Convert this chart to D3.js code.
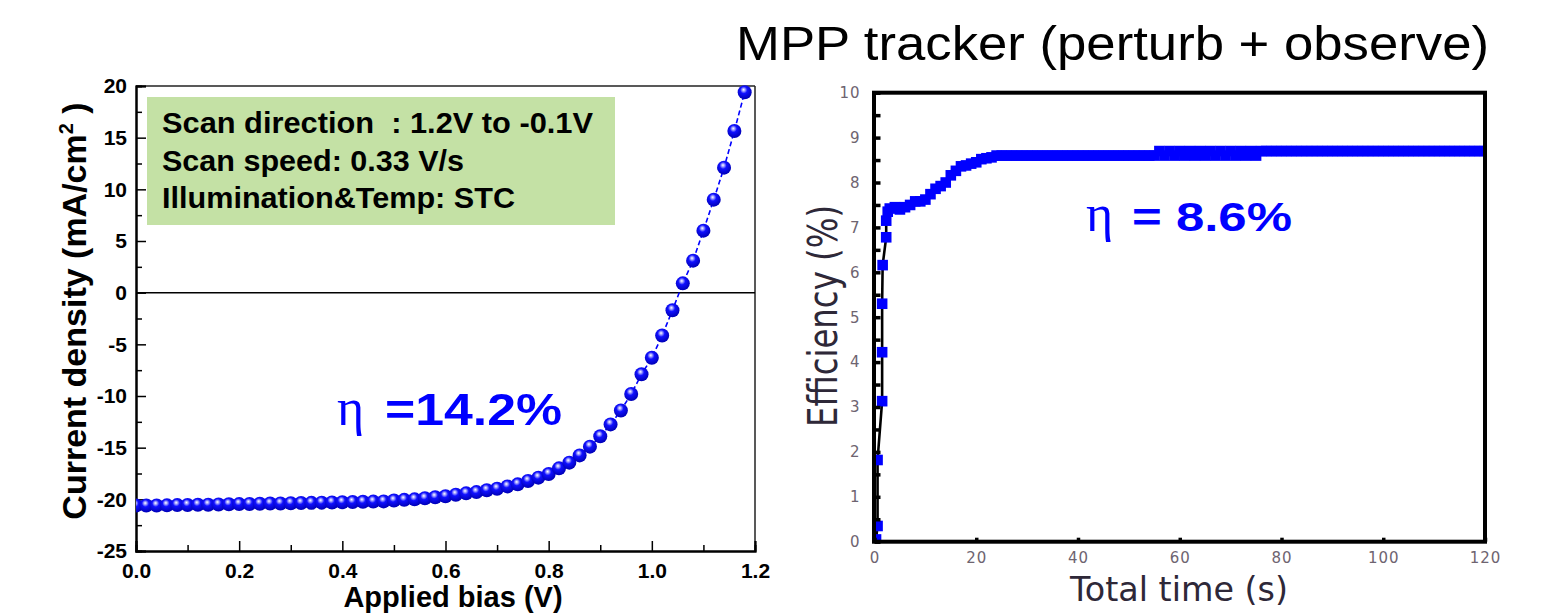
<!DOCTYPE html>
<html>
<head>
<meta charset="utf-8">
<script src="https://cdn.jsdelivr.net/npm/d3@7"></script>
<style>
  body { margin: 0; background: #fff; }
  svg { display: block; }
</style>
</head>
<body>
<svg id="chart" width="1545" height="613"></svg>
<script>
// J-V curve (left panel)
const biasV = [0.00, 0.02, 0.04, 0.06, 0.08, 0.10, 0.12, 0.14, 0.16, 0.18,
               0.20, 0.22, 0.24, 0.26, 0.28, 0.30, 0.32, 0.34, 0.36, 0.38,
               0.40, 0.42, 0.44, 0.46, 0.48, 0.50, 0.52, 0.54, 0.56, 0.58,
               0.60, 0.62, 0.64, 0.66, 0.68, 0.70, 0.72, 0.74, 0.76, 0.78,
               0.80, 0.82, 0.84, 0.86, 0.88, 0.90, 0.92, 0.94, 0.96, 0.98,
               1.00, 1.02, 1.04, 1.06, 1.08, 1.10, 1.12, 1.14, 1.16, 1.18];
const currentJ = [-20.6, -20.6, -20.6, -20.58, -20.56, -20.55, -20.53, -20.52, -20.5, -20.48,
                  -20.46, -20.45, -20.43, -20.41, -20.4, -20.38, -20.36, -20.34, -20.32, -20.3,
                  -20.28, -20.26, -20.24, -20.22, -20.2, -20.12, -20.05, -20.0, -19.9, -19.8,
                  -19.7, -19.55, -19.42, -19.3, -19.12, -18.97, -18.75, -18.55, -18.22, -17.9,
                  -17.55, -17.0, -16.45, -15.75, -14.9, -13.9, -12.75, -11.4, -9.8, -7.9,
                  -6.3, -4.15, -1.7, 0.9, 3.1, 6.0, 9.0, 12.1, 15.65, 19.4];
const jTicks = [-25, -20, -15, -10, -5, 0, 5, 10, 15, 20];
const jMinor = [-22.5, -17.5, -12.5, -7.5, -2.5, 2.5, 7.5, 12.5, 17.5];
const vTicks = [0, 0.2, 0.4, 0.6, 0.8, 1.0, 1.2];
const vMinor = [0.1, 0.3, 0.5, 0.7, 0.9, 1.1];
const infoLines = ["Scan direction\u00a0\u00a0: 1.2V to -0.1V", "Scan speed: 0.33 V/s", "Illumination&Temp: STC"];

// MPP tracking (right panel)
const timeS = [0.3, 0.6, 0.6, 1.5, 1.5, 1.5, 1.6, 2.3, 2.3, 2.6,
  3, 4, 5, 6, 7, 8, 9, 10, 11, 12, 13, 14, 15, 16, 17, 18, 19, 20, 21, 22, 23,
  24, 25, 26, 27, 28, 29, 30, 31, 32, 33, 34, 35, 36, 37, 38, 39, 40, 41, 42, 43,
  44, 45, 46, 47, 48, 49, 50, 51, 52, 53, 54, 55,
  56, 57, 58, 59, 60, 61, 62, 63, 64, 65, 66, 67, 68, 69, 70, 71, 72, 73, 74, 75, 76,
  77, 78, 79, 80, 81, 82, 83, 84, 85, 86, 87, 88, 89, 90, 91, 92, 93, 94, 95, 96,
  97, 98, 99, 100, 101, 102, 103, 104, 105, 106, 107, 108, 109, 110, 111, 112, 113,
  114, 115, 116, 117, 118, 119, 120];
const effPct = [0.05, 0.35, 1.82, 3.13, 4.22, 5.3, 6.16, 6.78, 7.15, 7.35,
  7.42, 7.45, 7.4, 7.45, 7.5, 7.58, 7.58, 7.62, 7.74, 7.86, 7.92, 8.0, 8.16, 8.26, 8.36, 8.38, 8.42, 8.45, 8.52, 8.54, 8.56,
  8.6, 8.6, 8.6, 8.6, 8.6, 8.6, 8.6, 8.6, 8.6, 8.6, 8.6, 8.6, 8.6, 8.6, 8.6, 8.6, 8.6, 8.6, 8.6, 8.6,
  8.6, 8.6, 8.6, 8.6, 8.6, 8.6, 8.6, 8.6, 8.6, 8.6, 8.6, 8.6,
  8.7, 8.6, 8.7, 8.6, 8.7, 8.6, 8.7, 8.6, 8.7, 8.6, 8.7, 8.6, 8.7, 8.6, 8.7, 8.6, 8.7, 8.6, 8.7, 8.6, 8.7,
  8.7, 8.7, 8.7, 8.7, 8.7, 8.7, 8.7, 8.7, 8.7, 8.7, 8.7, 8.7, 8.7, 8.7, 8.7, 8.7, 8.7, 8.7, 8.7, 8.7,
  8.7, 8.7, 8.7, 8.7, 8.7, 8.7, 8.7, 8.7, 8.7, 8.7, 8.7, 8.7, 8.7, 8.7, 8.7, 8.7, 8.7,
  8.7, 8.7, 8.7, 8.7, 8.7, 8.7, 8.7];
const effTicks = [0, 1, 2, 3, 4, 5, 6, 7, 8, 9, 10];
const effMinor = [0.5, 1.5, 2.5, 3.5, 4.5, 5.5, 6.5, 7.5, 8.5, 9.5];
const timeTicks = [0, 20, 40, 60, 80, 100, 120];

const svg = d3.select("#chart");
const sansBold = "'Liberation Sans', Arial, sans-serif";
const pixelFont = "'DejaVu Sans', sans-serif";

svg.append("rect").attr("width", 1545).attr("height", 613).attr("fill", "#fff");

const defs = svg.append("defs");
const grad = defs.append("radialGradient").attr("id", "ball")
  .attr("cx", "45%").attr("cy", "38%").attr("r", "60%").attr("fx", "42%").attr("fy", "32%");
grad.append("stop").attr("offset", "0%").attr("stop-color", "#ffffff");
grad.append("stop").attr("offset", "18%").attr("stop-color", "#a0a0ff");
grad.append("stop").attr("offset", "42%").attr("stop-color", "#1010ff");
grad.append("stop").attr("offset", "100%").attr("stop-color", "#0000b8");
defs.append("clipPath").attr("id", "leftClip").append("rect")
  .attr("x", 136).attr("y", 70).attr("width", 640).attr("height", 481);

// ---------- left panel ----------
const xL = d3.scaleLinear().domain([0, 1.2]).range([136, 755]);
const yL = d3.scaleLinear().domain([-25, 20]).range([551, 86]);

// info box
const box = svg.append("g");
box.append("rect").attr("x", 147).attr("y", 97).attr("width", 468).attr("height", 128)
  .attr("fill", "#c4e1a5");
box.selectAll("text").data(infoLines).enter().append("text")
  .attr("x", 162).attr("y", (d, i) => 133 + i * 37.5)
  .attr("font-family", sansBold).attr("font-weight", "bold").attr("font-size", 29)
  .attr("textLength", (d, i) => [431, 302, 353][i]).attr("lengthAdjust", "spacingAndGlyphs")
  .attr("fill", "#000").text(d => d);

// frame
svg.append("line").attr("x1", 136).attr("x2", 755).attr("y1", 86).attr("y2", 86)
  .attr("stroke", "#222").attr("stroke-width", 1.5);
svg.append("line").attr("x1", 755).attr("x2", 755).attr("y1", 86).attr("y2", 551)
  .attr("stroke", "#222").attr("stroke-width", 1.5);
svg.append("line").attr("x1", xL(0)).attr("x2", xL(1.2)).attr("y1", yL(0)).attr("y2", yL(0))
  .attr("stroke", "#000").attr("stroke-width", 1.5);

const leftAxes = svg.append("g");
const yAxisL = leftAxes.append("g").attr("transform", "translate(136,0)")
  .call(d3.axisLeft(yL).tickValues(jTicks).tickSize(-10).tickPadding(9).tickFormat(d => String(d)));
leftAxes.append("g").attr("transform", "translate(136,0)")
  .call(d3.axisLeft(yL).tickValues(jMinor).tickSize(-6).tickFormat(""));
const xAxisL = leftAxes.append("g").attr("transform", "translate(0,551)")
  .call(d3.axisBottom(xL).tickValues(vTicks).tickSize(-10).tickPadding(12).tickFormat(d3.format(".1f")));
leftAxes.append("g").attr("transform", "translate(0,551)")
  .call(d3.axisBottom(xL).tickValues(vMinor).tickSize(-6).tickFormat(""));

leftAxes.selectAll(".domain").attr("stroke", "#000").attr("stroke-width", 2);
leftAxes.selectAll(".tick line").attr("stroke", "#000").attr("stroke-width", 1.5);
leftAxes.selectAll("text")
  .attr("font-family", sansBold).attr("font-weight", "bold").attr("font-size", 21).attr("fill", "#000");

// curve
const jv = biasV.map((v, i) => ({ v: v, j: currentJ[i] }));
const curve = svg.append("g").attr("clip-path", "url(#leftClip)");
curve.append("path").datum(jv)
  .attr("d", d3.line().x(d => xL(d.v)).y(d => yL(d.j)))
  .attr("fill", "none").attr("stroke", "#0000ff").attr("stroke-width", 1.6)
  .attr("stroke-dasharray", "5,3");
curve.selectAll("circle").data(jv).enter().append("circle")
  .attr("cx", d => xL(d.v)).attr("cy", d => yL(d.j)).attr("r", 7)
  .attr("fill", "url(#ball)");

// axis titles
svg.append("text").attr("transform", "translate(86,311) rotate(-90)")
  .attr("text-anchor", "middle").attr("font-family", sansBold).attr("font-weight", "bold")
  .attr("font-size", 34).attr("fill", "#000")
  .call(t => {
    t.append("tspan").text("Current density (mA/cm");
    t.append("tspan").attr("font-size", 20).attr("dy", -13).text("2");
    t.append("tspan").attr("dy", 13).text("\u00a0)");
  });
svg.append("text").attr("x", 453).attr("y", 607).attr("text-anchor", "middle")
  .attr("font-family", sansBold).attr("font-weight", "bold").attr("font-size", 29)
  .attr("fill", "#000").text("Applied bias (V)");

// efficiency note
svg.append("text").attr("x", 337).attr("y", 425).attr("font-family", "'Liberation Serif', serif")
  .attr("font-size", 52).attr("fill", "#0000ff").text("η");
svg.append("text").attr("x", 385).attr("y", 425).attr("font-family", sansBold).attr("font-weight", "bold")
  .attr("font-size", 45).attr("textLength", 177).attr("lengthAdjust", "spacingAndGlyphs")
  .attr("fill", "#0000ff").text("=14.2%");

// ---------- right panel ----------
const xR = d3.scaleLinear().domain([0, 120]).range([874.5, 1485]);
const yR = d3.scaleLinear().domain([0, 10]).range([541.7, 92.7]);

defs.append("clipPath").attr("id", "rightClip").append("rect")
  .attr("x", xR(0)).attr("y", yR(10)).attr("width", xR(120) - xR(0)).attr("height", yR(0) - yR(10));

svg.append("text").attr("x", 736).attr("y", 60).attr("font-family", "'Liberation Sans', Arial, sans-serif")
  .attr("font-size", 48).attr("textLength", 753).attr("lengthAdjust", "spacingAndGlyphs")
  .attr("fill", "#000").text("MPP tracker (perturb + observe)");

const mpp = timeS.map((t, i) => ({ t: t, e: effPct[i] }));
const track = svg.append("g").attr("clip-path", "url(#rightClip)");
track.append("path").datum(mpp)
  .attr("d", d3.line().x(d => xR(d.t)).y(d => yR(d.e)))
  .attr("fill", "none").attr("stroke", "#000").attr("stroke-width", 2.6);
track.selectAll("rect").data(mpp).enter().append("rect")
  .attr("x", d => xR(d.t) - 5.3).attr("y", d => yR(d.e) - 5.3)
  .attr("width", 10.6).attr("height", 10.6).attr("fill", "#0000ff");

// frame of right panel
svg.append("rect").attr("x", xR(0) - 0.5).attr("y", yR(10)).attr("width", xR(120) - xR(0) + 0.5)
  .attr("height", yR(0) - yR(10)).attr("fill", "none").attr("stroke", "#000").attr("stroke-width", 4);

const rightAxes = svg.append("g");
rightAxes.append("g").attr("transform", `translate(${xR(0)},0)`)
  .call(d3.axisLeft(yR).tickValues(effTicks).tickSize(-6).tickPadding(14).tickFormat(d3.format("d")));
rightAxes.append("g").attr("transform", `translate(${xR(0)},0)`)
  .call(d3.axisLeft(yR).tickValues(effMinor).tickSize(-6).tickFormat(""));
rightAxes.append("g").attr("transform", `translate(0,${yR(0)})`)
  .call(d3.axisBottom(xR).tickValues(timeTicks).tickSize(-4).tickPadding(11).tickFormat(d3.format("d")));
rightAxes.selectAll(".domain").remove();
rightAxes.selectAll(".tick line").attr("stroke", "#000").attr("stroke-width", 3.5);
rightAxes.selectAll("text").attr("font-family", pixelFont).attr("font-size", 15)
  .attr("letter-spacing", 1).attr("fill", "#6e6470");

svg.append("text").attr("transform", "translate(837,316) rotate(-90)").attr("text-anchor", "middle")
  .attr("font-family", pixelFont).attr("font-size", 40)
  .attr("textLength", 222).attr("lengthAdjust", "spacingAndGlyphs")
  .attr("fill", "#2e2838").text("Efficiency (%)");
svg.append("text").attr("x", 1179).attr("y", 601).attr("text-anchor", "middle")
  .attr("font-family", pixelFont).attr("font-size", 34)
  .attr("textLength", 218).attr("lengthAdjust", "spacingAndGlyphs")
  .attr("fill", "#2e2838").text("Total time (s)");

svg.append("text").attr("x", 1086).attr("y", 231).attr("font-family", "'Liberation Serif', serif")
  .attr("font-size", 52).attr("fill", "#0000ff").text("η");
svg.append("text").attr("x", 1132).attr("y", 231).attr("font-family", sansBold).attr("font-weight", "bold")
  .attr("font-size", 40).attr("textLength", 160).attr("lengthAdjust", "spacingAndGlyphs")
  .attr("fill", "#0000ff").text("= 8.6%");
</script>
</body>
</html>
